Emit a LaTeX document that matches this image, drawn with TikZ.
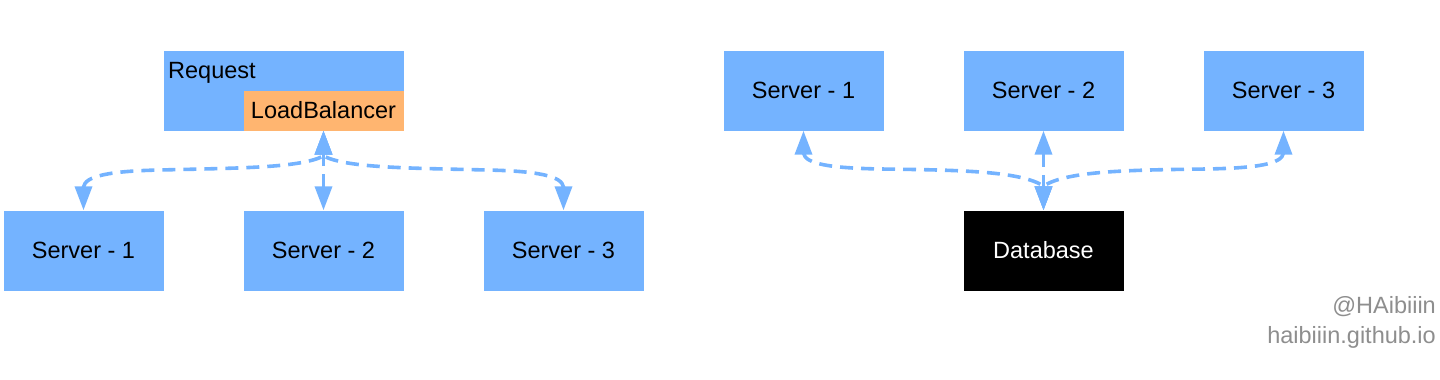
\documentclass[tikz,border=0pt]{standalone}
\usepackage{fontspec}
\setmainfont{Liberation Sans}
\usetikzlibrary{arrows.meta}
\definecolor{boxblue}{HTML}{74B3FF}
\definecolor{boxorange}{HTML}{FFB570}
\definecolor{marky}{HTML}{8E8E8E}
\tikzset{
  srv/.style={fill=boxblue, minimum width=160pt, minimum height=80pt, inner sep=0pt,
    font=\fontsize{23.5}{27}\selectfont},
  dbbox/.style={fill=black, text=white, minimum width=160pt, minimum height=80pt, inner sep=0pt,
    font=\fontsize{23.5}{27}\selectfont},
  conn/.style={draw=boxblue, line width=3.6pt, dash pattern=on 13pt off 8pt,
    {Triangle[length=24pt,width=17pt]}-{Triangle[length=24pt,width=17pt]}},
  lbl/.style={inner sep=0pt, font=\fontsize{23.5}{27}\selectfont},
  wmark/.style={inner sep=0pt, text=marky, font=\fontsize{23.5}{26}\selectfont}
}
\begin{document}
\begin{tikzpicture}[x=1pt,y=-1pt]
\useasboundingbox (0,0) rectangle (1440,380);
% left
\node[srv, minimum width=240pt] (req) at (283.5,90.5) {};
\node[lbl, anchor=base west] (reqt) at (168,78) {Request};
\node[srv, fill=boxorange, minimum height=40pt] (lb) at (323.5,110.5) {LoadBalancer};
\node[srv] (s1) at (83.5,250.5) {Server - 1};
\node[srv] (s2) at (323.5,250.5) {Server - 2};
\node[srv] (s3) at (563.5,250.5) {Server - 3};
% right
\node[srv] (r1) at (803.5,90.5) {Server - 1};
\node[srv] (r2) at (1043.5,90.5) {Server - 2};
\node[srv] (r3) at (1283.5,90.5) {Server - 3};
\node[dbbox] (db) at (1043.5,250.5) {Database};
% watermark
\node[wmark, anchor=base east] (m1) at (1436,313) {@HAibiiin};
\node[wmark, anchor=base east] (m2) at (1436,343) {haibiiin.github.io};
% connectors left
\draw[conn] (s1.north) -- (83.5,187) .. controls (85,176) and (110,171) .. (160,170)
  .. controls (240,168) and (300,168) .. (323.5,156) -- (lb.south);
\draw[conn] (s3.north) -- (563.5,187) .. controls (562,176) and (537,171) .. (487,170)
  .. controls (407,168) and (347,168) .. (323.5,156) -- (lb.south);
\draw[conn] (s2.north) -- (lb.south);
% connectors right
\draw[conn] (r1.south) -- (803.5,153) .. controls (805,164) and (830,168) .. (880,169)
  .. controls (960,170) and (1020,171) .. (1043.5,186) -- (db.north);
\draw[conn] (r3.south) -- (1283.5,153) .. controls (1282,164) and (1257,168) .. (1207,169)
  .. controls (1127,170) and (1067,171) .. (1043.5,186) -- (db.north);
\draw[conn] (r2.south) -- (db.north);
\end{tikzpicture}
\end{document}
